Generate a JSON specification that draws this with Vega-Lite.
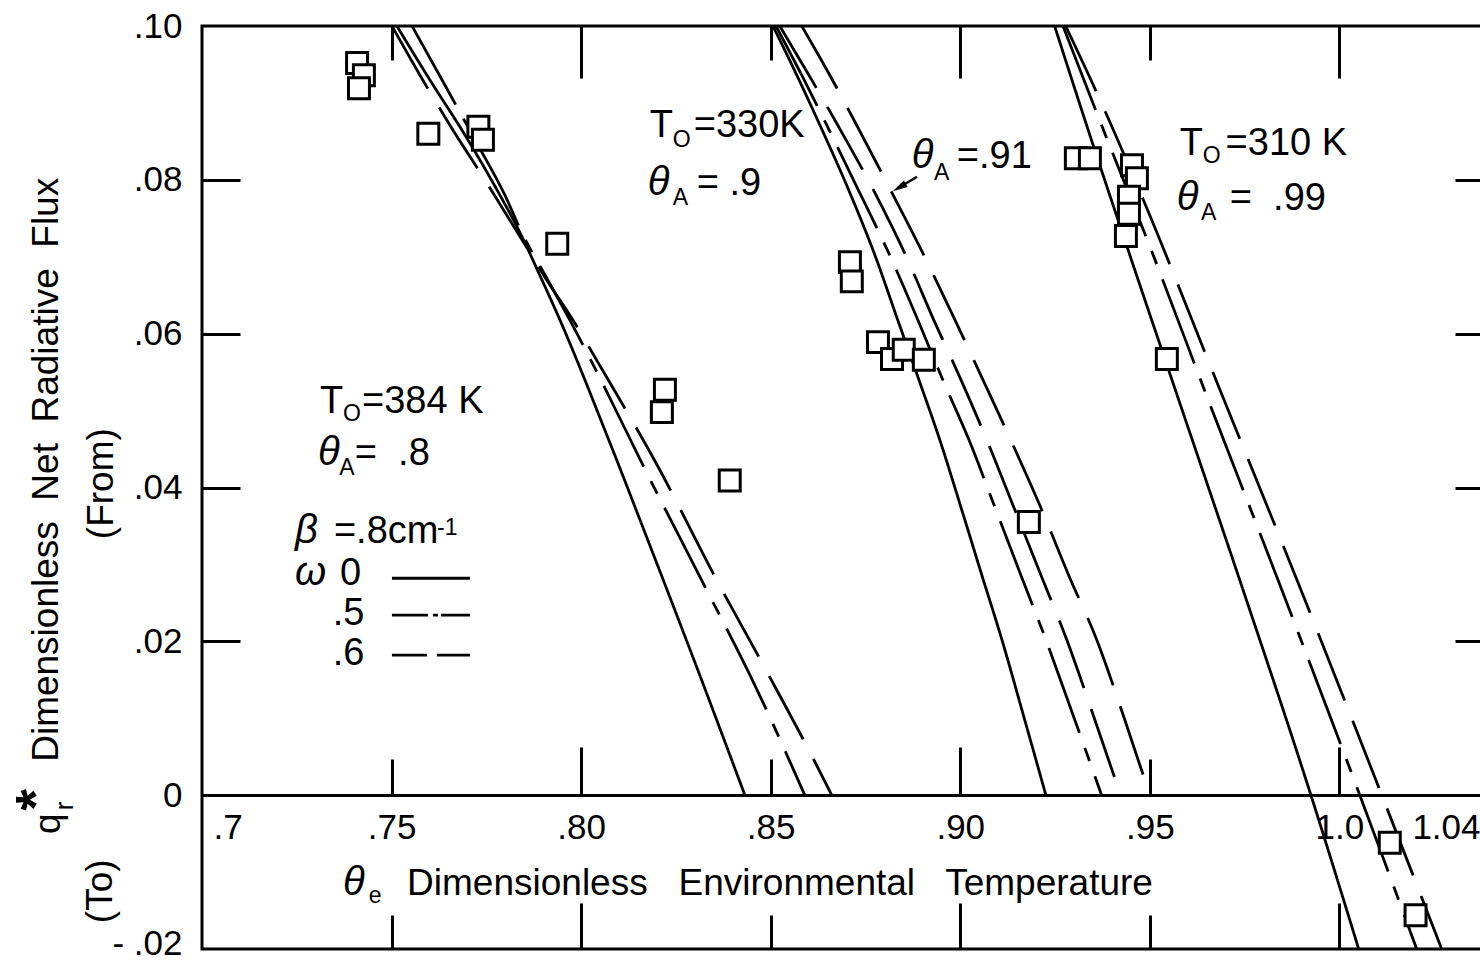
{
  "$schema": "https://vega.github.io/schema/vega-lite/v6.json",
  "width": 1289,
  "height": 923,
  "autosize": {"type": "none"},
  "padding": {"left": 202, "top": 26, "right": -11, "bottom": 16},
  "background": "white",
  "config": {
    "view": {"stroke": "black", "strokeWidth": 3},
    "axis": {"domain": false, "grid": false, "labels": false, "tickColor": "black", "tickWidth": 3, "labelColor": "black", "labelFont": "Liberation Sans", "domainColor": "black"},
    "text": {"font": "Liberation Sans", "color": "black"}
  },
  "datasets": {
    "curves": [
      {"curve": "384K-0", "omega": "0", "v": 0.7514, "q": 0.1000},
      {"curve": "384K-0", "omega": "0", "v": 0.7601, "q": 0.0930},
      {"curve": "384K-0", "omega": "0", "v": 0.7694, "q": 0.0858},
      {"curve": "384K-0", "omega": "0", "v": 0.7778, "q": 0.0787},
      {"curve": "384K-0", "omega": "0", "v": 0.7839, "q": 0.0731},
      {"curve": "384K-0", "omega": "0", "v": 0.7891, "q": 0.0676},
      {"curve": "384K-0", "omega": "0", "v": 0.7944, "q": 0.0618},
      {"curve": "384K-0", "omega": "0", "v": 0.8068, "q": 0.0468},
      {"curve": "384K-0", "omega": "0", "v": 0.8189, "q": 0.0315},
      {"curve": "384K-0", "omega": "0", "v": 0.8313, "q": 0.0156},
      {"curve": "384K-0", "omega": "0", "v": 0.8432, "q": 0.0},
      {"curve": "384K-0.5", "omega": "0.5", "v": 0.7554, "q": 0.1000},
      {"curve": "384K-0.5", "omega": "0.5", "v": 0.7641, "q": 0.0923},
      {"curve": "384K-0.5", "omega": "0.5", "v": 0.7720, "q": 0.0852},
      {"curve": "384K-0.5", "omega": "0.5", "v": 0.7799, "q": 0.0780},
      {"curve": "384K-0.5", "omega": "0.5", "v": 0.7844, "q": 0.0731},
      {"curve": "384K-0.5", "omega": "0.5", "v": 0.7912, "q": 0.0670},
      {"curve": "384K-0.5", "omega": "0.5", "v": 0.7970, "q": 0.0618},
      {"curve": "384K-0.5", "omega": "0.5", "v": 0.8050, "q": 0.0542},
      {"curve": "384K-0.5", "omega": "0.5", "v": 0.8163, "q": 0.0429},
      {"curve": "384K-0.5", "omega": "0.5", "v": 0.8308, "q": 0.0289},
      {"curve": "384K-0.5", "omega": "0.5", "v": 0.8464, "q": 0.0137},
      {"curve": "384K-0.5", "omega": "0.5", "v": 0.8590, "q": 0.0},
      {"curve": "384K-0.6", "omega": "0.6", "v": 0.7501, "q": 0.1000},
      {"curve": "384K-0.6", "omega": "0.6", "v": 0.7575, "q": 0.0936},
      {"curve": "384K-0.6", "omega": "0.6", "v": 0.7654, "q": 0.0871},
      {"curve": "384K-0.6", "omega": "0.6", "v": 0.7746, "q": 0.0800},
      {"curve": "384K-0.6", "omega": "0.6", "v": 0.7833, "q": 0.0731},
      {"curve": "384K-0.6", "omega": "0.6", "v": 0.7918, "q": 0.0663},
      {"curve": "384K-0.6", "omega": "0.6", "v": 0.7978, "q": 0.0618},
      {"curve": "384K-0.6", "omega": "0.6", "v": 0.8044, "q": 0.0563},
      {"curve": "384K-0.6", "omega": "0.6", "v": 0.8203, "q": 0.0427},
      {"curve": "384K-0.6", "omega": "0.6", "v": 0.8353, "q": 0.0284},
      {"curve": "384K-0.6", "omega": "0.6", "v": 0.8485, "q": 0.0165},
      {"curve": "384K-0.6", "omega": "0.6", "v": 0.8617, "q": 0.0043},
      {"curve": "384K-0.6", "omega": "0.6", "v": 0.8661, "q": 0.0},
      {"curve": "330K-0", "omega": "0", "v": 0.8506, "q": 0.1000},
      {"curve": "330K-0", "omega": "0", "v": 0.8569, "q": 0.0936},
      {"curve": "330K-0", "omega": "0", "v": 0.8630, "q": 0.0871},
      {"curve": "330K-0", "omega": "0", "v": 0.8709, "q": 0.0783},
      {"curve": "330K-0", "omega": "0", "v": 0.8775, "q": 0.0702},
      {"curve": "330K-0", "omega": "0", "v": 0.8835, "q": 0.0618},
      {"curve": "330K-0", "omega": "0", "v": 0.8891, "q": 0.0540},
      {"curve": "330K-0", "omega": "0", "v": 0.8946, "q": 0.0462},
      {"curve": "330K-0", "omega": "0", "v": 0.9004, "q": 0.0371},
      {"curve": "330K-0", "omega": "0", "v": 0.9057, "q": 0.0286},
      {"curve": "330K-0", "omega": "0", "v": 0.9110, "q": 0.0202},
      {"curve": "330K-0", "omega": "0", "v": 0.9170, "q": 0.0098},
      {"curve": "330K-0", "omega": "0", "v": 0.9226, "q": 0.0},
      {"curve": "330K-0.5", "omega": "0.5", "v": 0.8514, "q": 0.1000},
      {"curve": "330K-0.5", "omega": "0.5", "v": 0.8582, "q": 0.0936},
      {"curve": "330K-0.5", "omega": "0.5", "v": 0.8648, "q": 0.0871},
      {"curve": "330K-0.5", "omega": "0.5", "v": 0.8735, "q": 0.0783},
      {"curve": "330K-0.5", "omega": "0.5", "v": 0.8814, "q": 0.0702},
      {"curve": "330K-0.5", "omega": "0.5", "v": 0.8888, "q": 0.0618},
      {"curve": "330K-0.5", "omega": "0.5", "v": 0.8954, "q": 0.0540},
      {"curve": "330K-0.5", "omega": "0.5", "v": 0.9023, "q": 0.0462},
      {"curve": "330K-0.5", "omega": "0.5", "v": 0.9094, "q": 0.0371},
      {"curve": "330K-0.5", "omega": "0.5", "v": 0.9160, "q": 0.0286},
      {"curve": "330K-0.5", "omega": "0.5", "v": 0.9226, "q": 0.0202},
      {"curve": "330K-0.5", "omega": "0.5", "v": 0.9302, "q": 0.0098},
      {"curve": "330K-0.5", "omega": "0.5", "v": 0.9373, "q": 0.0},
      {"curve": "330K-0.6", "omega": "0.6", "v": 0.8524, "q": 0.1000},
      {"curve": "330K-0.6", "omega": "0.6", "v": 0.8601, "q": 0.0936},
      {"curve": "330K-0.6", "omega": "0.6", "v": 0.8677, "q": 0.0871},
      {"curve": "330K-0.6", "omega": "0.6", "v": 0.8775, "q": 0.0783},
      {"curve": "330K-0.6", "omega": "0.6", "v": 0.8856, "q": 0.0702},
      {"curve": "330K-0.6", "omega": "0.6", "v": 0.8930, "q": 0.0618},
      {"curve": "330K-0.6", "omega": "0.6", "v": 0.9002, "q": 0.0540},
      {"curve": "330K-0.6", "omega": "0.6", "v": 0.9070, "q": 0.0462},
      {"curve": "330K-0.6", "omega": "0.6", "v": 0.9144, "q": 0.0371},
      {"curve": "330K-0.6", "omega": "0.6", "v": 0.9213, "q": 0.0286},
      {"curve": "330K-0.6", "omega": "0.6", "v": 0.9281, "q": 0.0202},
      {"curve": "330K-0.6", "omega": "0.6", "v": 0.9355, "q": 0.0098},
      {"curve": "330K-0.6", "omega": "0.6", "v": 0.9423, "q": 0.0},
      {"curve": "330K-A91", "omega": "0.6", "v": 0.8582, "q": 0.1000},
      {"curve": "330K-A91", "omega": "0.6", "v": 0.8656, "q": 0.0936},
      {"curve": "330K-A91", "omega": "0.6", "v": 0.8727, "q": 0.0871},
      {"curve": "330K-A91", "omega": "0.6", "v": 0.8820, "q": 0.0783},
      {"curve": "330K-A91", "omega": "0.6", "v": 0.8904, "q": 0.0702},
      {"curve": "330K-A91", "omega": "0.6", "v": 0.8986, "q": 0.0618},
      {"curve": "330K-A91", "omega": "0.6", "v": 0.9060, "q": 0.0540},
      {"curve": "330K-A91", "omega": "0.6", "v": 0.9133, "q": 0.0462},
      {"curve": "330K-A91", "omega": "0.6", "v": 0.9215, "q": 0.0371},
      {"curve": "330K-A91", "omega": "0.6", "v": 0.9286, "q": 0.0286},
      {"curve": "330K-A91", "omega": "0.6", "v": 0.9360, "q": 0.0202},
      {"curve": "330K-A91", "omega": "0.6", "v": 0.9434, "q": 0.0098},
      {"curve": "330K-A91", "omega": "0.6", "v": 0.9500, "q": 0.0},
      {"curve": "310K-0", "omega": "0", "v": 0.9249, "q": 0.1000},
      {"curve": "310K-0", "omega": "0", "v": 0.9342, "q": 0.0858},
      {"curve": "310K-0", "omega": "0", "v": 0.9442, "q": 0.0710},
      {"curve": "310K-0", "omega": "0", "v": 0.9590, "q": 0.0494},
      {"curve": "310K-0", "omega": "0", "v": 0.9737, "q": 0.0280},
      {"curve": "310K-0", "omega": "0", "v": 0.9925, "q": 0.0},
      {"curve": "310K-0", "omega": "0", "v": 1.0051, "q": -0.0200},
      {"curve": "310K-0.5", "omega": "0.5", "v": 0.9271, "q": 0.1000},
      {"curve": "310K-0.5", "omega": "0.5", "v": 0.9376, "q": 0.0867},
      {"curve": "310K-0.5", "omega": "0.5", "v": 0.9487, "q": 0.0730},
      {"curve": "310K-0.5", "omega": "0.5", "v": 0.9661, "q": 0.0505},
      {"curve": "310K-0.5", "omega": "0.5", "v": 0.9838, "q": 0.0280},
      {"curve": "310K-0.5", "omega": "0.5", "v": 1.0054, "q": 0.0},
      {"curve": "310K-0.5", "omega": "0.5", "v": 1.0204, "q": -0.0200},
      {"curve": "310K-0.6", "omega": "0.6", "v": 0.9278, "q": 0.1000},
      {"curve": "310K-0.6", "omega": "0.6", "v": 0.9376, "q": 0.0896},
      {"curve": "310K-0.6", "omega": "0.6", "v": 0.9482, "q": 0.0775},
      {"curve": "310K-0.6", "omega": "0.6", "v": 0.9685, "q": 0.0527},
      {"curve": "310K-0.6", "omega": "0.6", "v": 0.9888, "q": 0.0280},
      {"curve": "310K-0.6", "omega": "0.6", "v": 1.0112, "q": 0.0},
      {"curve": "310K-0.6", "omega": "0.6", "v": 1.0270, "q": -0.0200}
    ],
    "measured": [
      {"series": "384K", "v": 0.7409, "q": 0.0952},
      {"series": "384K", "v": 0.7427, "q": 0.0936},
      {"series": "384K", "v": 0.7414, "q": 0.0919},
      {"series": "384K", "v": 0.7597, "q": 0.0860},
      {"series": "384K", "v": 0.7729, "q": 0.0869},
      {"series": "384K", "v": 0.7741, "q": 0.0852},
      {"series": "384K", "v": 0.7937, "q": 0.0717},
      {"series": "384K", "v": 0.8221, "q": 0.0527},
      {"series": "384K", "v": 0.8213, "q": 0.0498},
      {"series": "384K", "v": 0.8392, "q": 0.0409},
      {"series": "330K", "v": 0.8709, "q": 0.0693},
      {"series": "330K", "v": 0.8714, "q": 0.0668},
      {"series": "330K", "v": 0.8783, "q": 0.0589},
      {"series": "330K", "v": 0.8820, "q": 0.0567},
      {"series": "330K", "v": 0.8851, "q": 0.0579},
      {"series": "330K", "v": 0.8904, "q": 0.0566},
      {"series": "330K", "v": 0.9181, "q": 0.0355},
      {"series": "310K", "v": 0.9305, "q": 0.0828},
      {"series": "310K", "v": 0.9342, "q": 0.0828},
      {"series": "310K", "v": 0.9453, "q": 0.0819},
      {"series": "310K", "v": 0.9466, "q": 0.0802},
      {"series": "310K", "v": 0.9445, "q": 0.0778},
      {"series": "310K", "v": 0.9445, "q": 0.0756},
      {"series": "310K", "v": 0.9437, "q": 0.0727},
      {"series": "310K", "v": 0.9545, "q": 0.0567},
      {"series": "310K", "v": 1.0133, "q": -0.0062},
      {"series": "310K", "v": 1.0201, "q": -0.0156}
    ],
    "notes": [
      {"kind": "main", "text": "T", "v": 0.7311, "q": 0.0497},
      {"kind": "main", "text": "=384 K", "v": 0.7422, "q": 0.0497},
      {"kind": "main", "text": "=\u00a0 .8", "v": 0.7403, "q": 0.0429},
      {"kind": "main", "text": "=.8cm", "v": 0.7348, "q": 0.0328},
      {"kind": "main", "text": "0", "v": 0.7364, "q": 0.0273},
      {"kind": "main", "text": ".5", "v": 0.7345, "q": 0.0221},
      {"kind": "main", "text": ".6", "v": 0.7345, "q": 0.0169},
      {"kind": "main", "text": "T", "v": 0.8181, "q": 0.0856},
      {"kind": "main", "text": "=330K", "v": 0.8297, "q": 0.0856},
      {"kind": "main", "text": "= .9", "v": 0.8305, "q": 0.0780},
      {"kind": "main", "text": "=.91", "v": 0.8991, "q": 0.0815},
      {"kind": "main", "text": "T", "v": 0.9579, "q": 0.0832},
      {"kind": "main", "text": "=310 K", "v": 0.9700, "q": 0.0832},
      {"kind": "main", "text": "=\u00a0 .99", "v": 0.9711, "q": 0.0761},
      {"kind": "sub", "text": "O", "v": 0.7372, "q": 0.0486},
      {"kind": "sub", "text": "A", "v": 0.7362, "q": 0.0416},
      {"kind": "sub", "text": "-1", "v": 0.7620, "q": 0.0338},
      {"kind": "sub", "text": "O", "v": 0.8242, "q": 0.0843},
      {"kind": "sub", "text": "A", "v": 0.8242, "q": 0.0767},
      {"kind": "sub", "text": "A", "v": 0.8931, "q": 0.0800},
      {"kind": "sub", "text": "O", "v": 0.9640, "q": 0.0822},
      {"kind": "sub", "text": "A", "v": 0.9635, "q": 0.0748},
      {"kind": "sub", "text": "e", "v": 0.7440, "q": -0.0140},
      {"kind": "greek", "text": "θ", "v": 0.7306, "q": 0.0429},
      {"kind": "greek", "text": "β", "v": 0.7245, "q": 0.0328},
      {"kind": "greek", "text": "ω", "v": 0.7245, "q": 0.0273},
      {"kind": "greek", "text": "θ", "v": 0.8176, "q": 0.0780},
      {"kind": "greek", "text": "θ", "v": 0.8872, "q": 0.0815},
      {"kind": "greek", "text": "θ", "v": 0.9571, "q": 0.0761},
      {"kind": "greek", "text": "θ", "v": 0.7372, "q": -0.0130},
      {"kind": "title", "text": "Dimensionless\u00a0\u00a0 Environmental\u00a0\u00a0 Temperature", "v": 0.7541, "q": -0.0130},
      {"kind": "rot", "text": "Dimensionless\u00a0 Net\u00a0 Radiative\u00a0 Flux", "v": 0.6591, "q": 0.0423},
      {"kind": "rot", "text": "(From)", "v": 0.6736, "q": 0.0405},
      {"kind": "rot", "text": "(To)", "v": 0.6734, "q": -0.0125},
      {"kind": "rot", "text": "q", "v": 0.6597, "q": -0.0037},
      {"kind": "rotsub", "text": "r", "v": 0.6639, "q": -0.0014},
      {"kind": "star", "text": "*", "v": 0.6564, "q": -0.0006}
    ],
    "legend": [
      {"omega": "0", "v": 0.7501, "v2": 0.7707, "q": 0.0282},
      {"omega": "0.5", "v": 0.7501, "v2": 0.7707, "q": 0.0234},
      {"omega": "0.6", "v": 0.7501, "v2": 0.7707, "q": 0.0182}
    ],
    "arrow": [
      {"v": 0.8886, "q": 0.0804, "v2": 0.8839, "q2": 0.0790}
    ],
    "arrowhead": [
      {"v": 0.8839, "q": 0.0790}
    ]
  },
  "resolve": {
    "axis": {"x": "independent", "y": "independent"},
    "scale": {"strokeDash": "independent"}
  },
  "layer": [
    {
      "data": {"name": "curves"},
      "mark": {"type": "line", "color": "black", "strokeWidth": 2.8, "interpolate": "monotone", "clip": true},
      "encoding": {
        "x": {
          "field": "v", "type": "quantitative",
          "scale": {"domain": [0.7, 1.04], "nice": false, "zero": false},
          "axis": {
            "orient": "bottom", "offset": -154, "title": null,
            "values": [0.7, 0.75, 0.8, 0.85, 0.9, 0.95, 1, 1.04],
            "labels": true, "ticks": false, "domain": true, "domainWidth": 3,
            "labelFontSize": 35, "labelPadding": 15, "labelFlush": true, "labelFlushOffset": -11,
            "labelExpr": "datum.value == 0.7 ? '.7' : datum.value == 1 ? '1.0' : datum.value == 1.04 ? '1.04' : replace(format(datum.value, '.2f'), '0.', '.')"
          }
        },
        "y": {
          "field": "q", "type": "quantitative",
          "scale": {"domain": [-0.02, 0.1], "nice": false, "zero": false},
          "axis": {
            "orient": "left", "title": null,
            "values": [0.1, 0.08, 0.06, 0.04, 0.02, 0, -0.02],
            "labels": true, "ticks": false, "labelFontSize": 35, "labelPadding": 20,
            "labelOffset": {"condition": {"test": "datum.value < 0", "value": -6}, "value": 0},
            "labelExpr": "datum.value == 0 ? '0' : datum.value < 0 ? '- .02' : replace(format(datum.value, '.2f'), '0.', '.')"
          }
        },
        "detail": {"field": "curve", "type": "nominal"},
        "strokeDash": {
          "field": "omega", "type": "nominal",
          "scale": {"domain": ["0", "0.5", "0.6"], "range": [[1, 0], [90, 16, 14, 16], [72, 22]]},
          "legend": null
        }
      }
    },
    {
      "data": {"name": "measured"},
      "mark": {"type": "point", "shape": "square", "size": 440, "filled": true, "fill": "white", "stroke": "black", "strokeWidth": 3, "opacity": 1},
      "encoding": {
        "x": {
          "field": "v", "type": "quantitative",
          "scale": {"domain": [0.7, 1.04], "nice": false, "zero": false},
          "axis": {"orient": "top", "title": null, "values": [0.75, 0.85, 0.95], "tickSize": -34}
        },
        "y": {
          "field": "q", "type": "quantitative",
          "scale": {"domain": [-0.02, 0.1], "nice": false, "zero": false},
          "axis": {"orient": "left", "title": null, "values": [0.08, 0.06, 0.04, 0.02], "tickSize": -38}
        }
      }
    },
    {
      "data": {"name": "notes"},
      "transform": [{"filter": "datum.kind == 'main'"}],
      "mark": {"type": "text", "fontSize": 38, "align": "left", "baseline": "alphabetic"},
      "encoding": {
        "x": {
          "field": "v", "type": "quantitative",
          "scale": {"domain": [0.7, 1.04], "nice": false, "zero": false},
          "axis": {"orient": "top", "title": null, "values": [0.8, 0.9, 1], "tickSize": -52}
        },
        "y": {
          "field": "q", "type": "quantitative",
          "scale": {"domain": [-0.02, 0.1], "nice": false, "zero": false},
          "axis": {"orient": "right", "title": null, "values": [0.08, 0.06, 0.04, 0.02], "tickSize": -36}
        },
        "text": {"field": "text"}
      }
    },
    {
      "data": {"name": "notes"},
      "transform": [{"filter": "datum.kind == 'sub'"}],
      "mark": {"type": "text", "fontSize": 23, "align": "left", "baseline": "alphabetic"},
      "encoding": {
        "x": {
          "field": "v", "type": "quantitative",
          "scale": {"domain": [0.7, 1.04], "nice": false, "zero": false},
          "axis": {"orient": "bottom", "title": null, "values": [0.75, 0.85, 0.95], "tickSize": -34}
        },
        "y": {"field": "q", "type": "quantitative", "scale": {"domain": [-0.02, 0.1], "nice": false, "zero": false}, "axis": null},
        "text": {"field": "text"}
      }
    },
    {
      "data": {"name": "notes"},
      "transform": [{"filter": "datum.kind == 'greek'"}],
      "mark": {"type": "text", "fontSize": 40, "fontStyle": "italic", "align": "left", "baseline": "alphabetic"},
      "encoding": {
        "x": {
          "field": "v", "type": "quantitative",
          "scale": {"domain": [0.7, 1.04], "nice": false, "zero": false},
          "axis": {"orient": "bottom", "title": null, "values": [0.8, 0.9, 1], "tickSize": -46}
        },
        "y": {"field": "q", "type": "quantitative", "scale": {"domain": [-0.02, 0.1], "nice": false, "zero": false}, "axis": null},
        "text": {"field": "text"}
      }
    },
    {
      "data": {"name": "legend"},
      "mark": {"type": "rule", "color": "black", "strokeWidth": 2.8},
      "encoding": {
        "x": {
          "field": "v", "type": "quantitative",
          "scale": {"domain": [0.7, 1.04], "nice": false, "zero": false},
          "axis": {"orient": "bottom", "offset": -154, "title": null, "values": [0.75, 0.85, 0.95], "tickSize": -36}
        },
        "x2": {"field": "v2"},
        "y": {"field": "q", "type": "quantitative", "scale": {"domain": [-0.02, 0.1], "nice": false, "zero": false}, "axis": null},
        "strokeDash": {
          "field": "omega", "type": "nominal",
          "scale": {"domain": ["0", "0.5", "0.6"], "range": [[1, 0], [36, 5, 5, 3], [35, 10]]},
          "legend": null
        }
      }
    },
    {
      "data": {"name": "arrow"},
      "mark": {"type": "rule", "color": "black", "strokeWidth": 2.5},
      "encoding": {
        "x": {
          "field": "v", "type": "quantitative",
          "scale": {"domain": [0.7, 1.04], "nice": false, "zero": false},
          "axis": {"orient": "bottom", "offset": -154, "title": null, "values": [0.8, 0.9, 1], "tickSize": -48}
        },
        "x2": {"field": "v2"},
        "y": {"field": "q", "type": "quantitative", "scale": {"domain": [-0.02, 0.1], "nice": false, "zero": false}, "axis": null},
        "y2": {"field": "q2"}
      }
    },
    {
      "data": {"name": "arrowhead"},
      "mark": {"type": "point", "shape": "M0,-1L0.5,1L-0.5,1Z", "size": 230, "filled": true, "color": "black", "opacity": 1, "angle": 240},
      "encoding": {
        "x": {"field": "v", "type": "quantitative", "scale": {"domain": [0.7, 1.04], "nice": false, "zero": false}, "axis": null},
        "y": {"field": "q", "type": "quantitative", "scale": {"domain": [-0.02, 0.1], "nice": false, "zero": false}, "axis": null}
      }
    },
    {
      "data": {"name": "notes"},
      "transform": [{"filter": "datum.kind == 'title'"}],
      "mark": {"type": "text", "fontSize": 37, "align": "left", "baseline": "alphabetic"},
      "encoding": {
        "x": {"field": "v", "type": "quantitative", "scale": {"domain": [0.7, 1.04], "nice": false, "zero": false}, "axis": null},
        "y": {"field": "q", "type": "quantitative", "scale": {"domain": [-0.02, 0.1], "nice": false, "zero": false}, "axis": null},
        "text": {"field": "text"}
      }
    },
    {
      "data": {"name": "notes"},
      "transform": [{"filter": "datum.kind == 'rot'"}],
      "mark": {"type": "text", "fontSize": 37, "align": "center", "baseline": "middle", "angle": 270},
      "encoding": {
        "x": {"field": "v", "type": "quantitative", "scale": {"domain": [0.7, 1.04], "nice": false, "zero": false}, "axis": null},
        "y": {"field": "q", "type": "quantitative", "scale": {"domain": [-0.02, 0.1], "nice": false, "zero": false}, "axis": null},
        "text": {"field": "text"}
      }
    },
    {
      "data": {"name": "notes"},
      "transform": [{"filter": "datum.kind == 'rotsub'"}],
      "mark": {"type": "text", "fontSize": 26, "align": "center", "baseline": "middle", "angle": 270},
      "encoding": {
        "x": {"field": "v", "type": "quantitative", "scale": {"domain": [0.7, 1.04], "nice": false, "zero": false}, "axis": null},
        "y": {"field": "q", "type": "quantitative", "scale": {"domain": [-0.02, 0.1], "nice": false, "zero": false}, "axis": null},
        "text": {"field": "text"}
      }
    },
    {
      "data": {"name": "notes"},
      "transform": [{"filter": "datum.kind == 'star'"}],
      "mark": {"type": "text", "fontSize": 56, "fontWeight": "bold", "align": "center", "baseline": "middle", "angle": 270},
      "encoding": {
        "x": {"field": "v", "type": "quantitative", "scale": {"domain": [0.7, 1.04], "nice": false, "zero": false}, "axis": null},
        "y": {"field": "q", "type": "quantitative", "scale": {"domain": [-0.02, 0.1], "nice": false, "zero": false}, "axis": null},
        "text": {"field": "text"}
      }
    }
  ]
}
